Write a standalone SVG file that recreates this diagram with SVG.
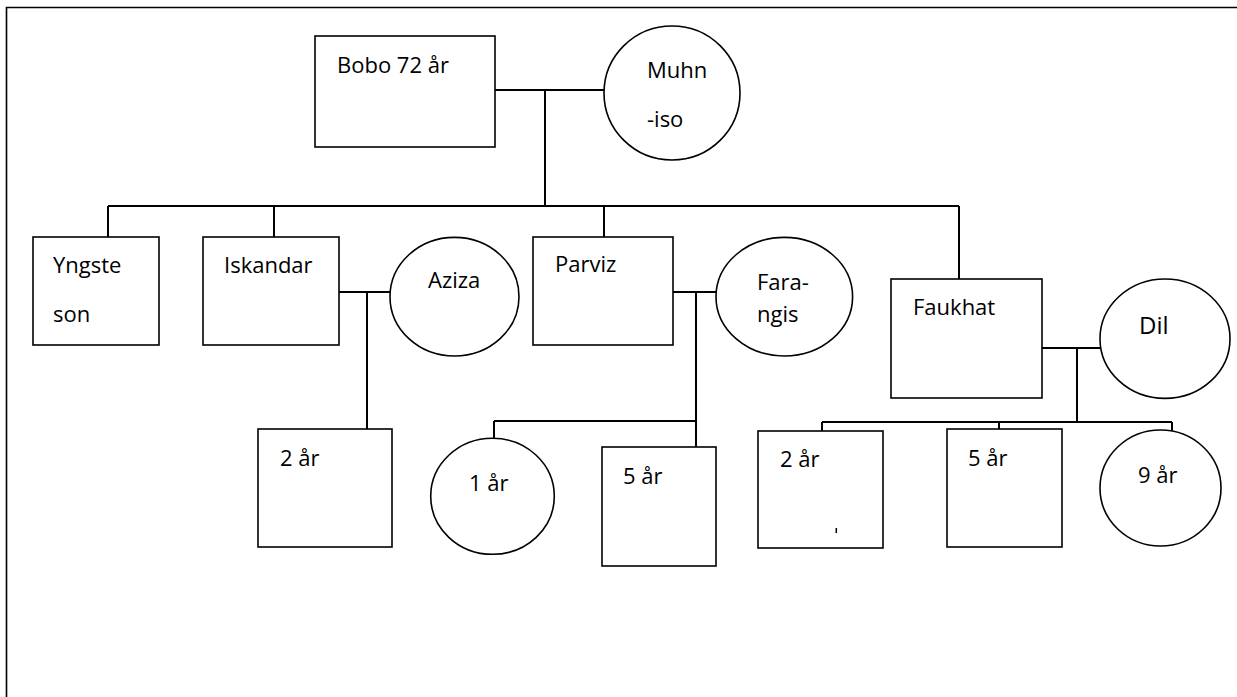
<svg xmlns="http://www.w3.org/2000/svg" width="1237" height="697" viewBox="0 0 1237 697">
<style>
.s{fill:#fff;stroke:#000;stroke-width:1.6}
.c{stroke:#000;stroke-width:2;fill:none}
.t{font-family:"Open Sans","Noto Sans",sans-serif;font-size:22px;fill:#000}
.big{font-size:24px}
</style>
<rect width="1237" height="697" fill="#fff"/>
<path d="M6.5,697 V7.5 H1237" fill="none" stroke="#000" stroke-width="1.6"/>
<g id="connectors" class="c">
<path d="M495,90 H604 M545,90 V206"/>
<path d="M108,206 H959 M108,206 V237 M274,206 V237 M604,206 V237 M959,206 V279"/>
<path d="M339,292 H390 M367,292 V429"/>
<path d="M673,292 H716 M696,292 V447 M494,421 H696 M494,421 V438"/>
<path d="M1042,348 H1100 M1077,348 V422 M822,422 H1172 M822,422 V431 M999,422 V429 M1172,422 V432"/>
</g>
<g id="bobo"><rect class="s" x="315" y="36" width="180" height="111"/><text class="t" x="337" y="73">Bobo 72 år</text></g>
<g id="muhniso"><ellipse class="s" cx="672" cy="93" rx="68" ry="67"/><text class="t" x="647" y="78">Muhn</text><text class="t" x="647" y="127">-iso</text></g>
<g id="yngste"><rect class="s" x="33" y="237" width="126" height="108"/><text class="t" x="53" y="273">Yngste</text><text class="t" x="53" y="322">son</text></g>
<g id="iskandar"><rect class="s" x="203" y="237" width="136" height="108"/><text class="t" x="224" y="273">Iskandar</text></g>
<g id="aziza"><ellipse class="s" cx="454.5" cy="296.7" rx="64.5" ry="59.3"/><text class="t" x="428" y="288">Aziza</text></g>
<g id="parviz"><rect class="s" x="533" y="237" width="140" height="108"/><text class="t" x="555" y="272">Parviz</text></g>
<g id="farangis"><ellipse class="s" cx="784.3" cy="296.7" rx="68.3" ry="59.3"/><text class="t" x="757" y="290">Fara-</text><text class="t" x="757" y="322">ngis</text></g>
<g id="faukhat"><rect class="s" x="891" y="279" width="151" height="119"/><text class="t" x="913" y="315">Faukhat</text></g>
<g id="dil"><ellipse class="s" cx="1165" cy="338.7" rx="65" ry="59.7"/><text class="t big" x="1139" y="334">Dil</text></g>
<g id="iskandar-child"><rect class="s" x="258" y="429" width="134" height="118"/><text class="t" x="280" y="466">2 år</text></g>
<g id="parviz-child1"><ellipse class="s" cx="492.5" cy="496.3" rx="61.8" ry="58"/><text class="t" x="469" y="491">1 år</text></g>
<g id="parviz-child2"><rect class="s" x="602" y="447" width="114" height="119"/><text class="t" x="623" y="484">5 år</text></g>
<g id="faukhat-child1"><rect class="s" x="758" y="431" width="125" height="117"/><text class="t" x="780" y="467">2 år</text><line x1="836.3" y1="528" x2="836.3" y2="533" stroke="#000" stroke-width="1.5"/></g>
<g id="faukhat-child2"><rect class="s" x="947" y="429" width="115" height="118"/><text class="t" x="968" y="466">5 år</text></g>
<g id="faukhat-child3"><ellipse class="s" cx="1160.5" cy="488" rx="60.5" ry="58"/><text class="t" x="1138" y="483">9 år</text></g>
</svg>
